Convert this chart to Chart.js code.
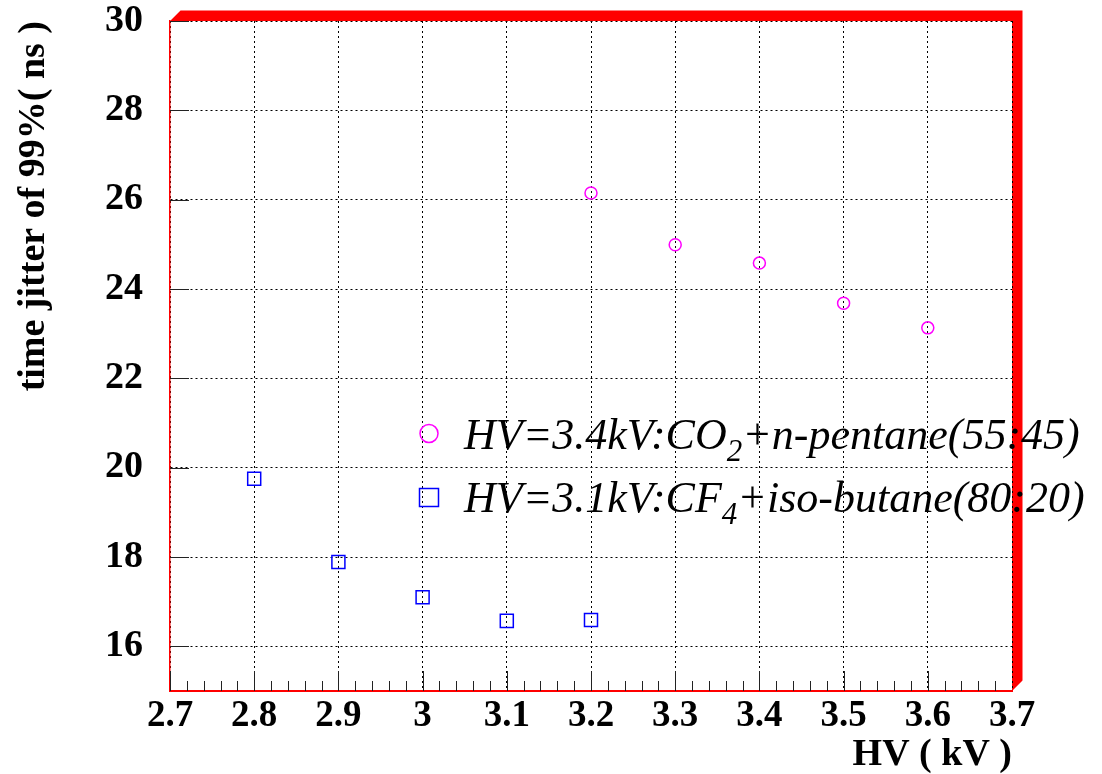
<!DOCTYPE html>
<html>
<head>
<meta charset="utf-8">
<script src="https://cdn.jsdelivr.net/npm/chart.js@4.4.0/dist/chart.umd.min.js"></script>
<style>
    html, body { margin: 0; padding: 0; background: #fff; }
    #contenedor { width: 1102px; height: 774px; }
</style>
</head>
<body>
<div id="contenedor"><canvas id="grafico" width="1102" height="774"></canvas></div>
<script>
// Datos
const hvCO2 = [3.2, 3.3, 3.4, 3.5, 3.6];
const jitterCO2 = [26.15, 24.99, 24.58, 23.68, 23.13];
const hvCF4 = [2.8, 2.9, 3.0, 3.1, 3.2];
const jitterCF4 = [19.75, 17.89, 17.10, 16.57, 16.59];

const xTicks = [2.7, 2.8, 2.9, 3.0, 3.1, 3.2, 3.3, 3.4, 3.5, 3.6, 3.7];
const yTicks = [16, 18, 20, 22, 24, 26, 28, 30];

const leyendaTextos = [
    ['HV=3.4kV:CO', '2', '+n-pentane(55:45)'],
    ['HV=3.1kV:CF', '4', '+iso-butane(80:20)']
];

const serif = '"Liberation Serif", "Times New Roman", serif';

// 1. Sombra roja del marco (arriba y derecha)
const sombraMarco = {
    id: 'sombraMarco',
    beforeDraw(chart) {
        const { ctx, chartArea: a } = chart;
        const d = 10.5;
        ctx.save();
        ctx.fillStyle = '#ff0000';
        ctx.beginPath();
        ctx.moveTo(a.left, a.top);
        ctx.lineTo(a.left + d, a.top - d);
        ctx.lineTo(a.right + d, a.top - d);
        ctx.lineTo(a.right + d, a.bottom - d);
        ctx.lineTo(a.right, a.bottom);
        ctx.lineTo(a.right, a.top);
        ctx.closePath();
        ctx.fill();
        ctx.restore();
    }
};

// 2. Marcas de los ejes (mayores y menores)
const marcasEjes = {
    id: 'marcasEjes',
    afterDatasetsDraw(chart) {
        const { ctx, chartArea: a, scales: { x, y } } = chart;
        ctx.save();
        ctx.strokeStyle = '#222';
        ctx.lineWidth = 1;
        ctx.beginPath();
        for (let i = 0; i < xTicks.length - 1; i++) {
            for (let k = 0; k < 5; k++) {
                const v = xTicks[i] + (xTicks[i + 1] - xTicks[i]) * k / 5;
                const px = Math.round(x.getPixelForValue(v)) + 0.5;
                const largo = k === 0 ? 20 : 10;
                ctx.moveTo(px, a.bottom);
                ctx.lineTo(px, a.bottom - largo);
            }
        }
        yTicks.forEach(v => {
            const py = Math.round(y.getPixelForValue(v)) + 0.5;
            ctx.moveTo(a.left, py);
            ctx.lineTo(a.left + 19, py);
        });
        ctx.stroke();
        ctx.restore();
    }
};

// 3. Leyenda con subindices
const leyenda = {
    id: 'leyenda',
    afterDraw(chart) {
        const { ctx } = chart;
        const filas = [
            { base: 448.5, color: '#ff00ff', forma: 'circulo' },
            { base: 511.5, color: '#0000ff', forma: 'cuadro' }
        ];
        ctx.save();
        filas.forEach((f, i) => {
            const cy = f.base - (i === 0 ? 15 : 14);
            ctx.strokeStyle = f.color;
            ctx.lineWidth = 1.5;
            ctx.beginPath();
            if (f.forma === 'circulo') {
                ctx.arc(429, cy, 9, 0, Math.PI * 2);
            } else {
                ctx.rect(419.5, cy - 9, 19, 18);
            }
            ctx.stroke();

            const [t1, sub, t2] = leyendaTextos[i];
            let x = 464;
            ctx.fillStyle = '#000';
            ctx.textBaseline = 'alphabetic';
            ctx.textAlign = 'left';
            ctx.font = 'italic 44px ' + serif;
            ctx.fillText(t1, x, f.base);
            x += ctx.measureText(t1).width;
            ctx.font = 'italic 31px ' + serif;
            ctx.fillText(sub, x, f.base + 12);
            x += ctx.measureText(sub).width;
            ctx.font = 'italic 44px ' + serif;
            ctx.fillText(t2, x, f.base);
        });
        ctx.restore();
    }
};

const ctx = document.getElementById('grafico').getContext('2d');
new Chart(ctx, {
    type: 'scatter',
    data: {
        datasets: [
            {
                label: 'HV=3.4kV:CO2+n-pentane(55:45)',
                data: hvCO2.map((v, i) => ({ x: v, y: jitterCO2[i] })),
                pointStyle: 'circle',
                pointRadius: 6,
                pointBorderWidth: 1.5,
                borderColor: '#ff00ff',
                backgroundColor: 'rgba(0,0,0,0)'
            },
            {
                label: 'HV=3.1kV:CF4+iso-butane(80:20)',
                data: hvCF4.map((v, i) => ({ x: v, y: jitterCF4[i] })),
                pointStyle: 'rect',
                pointRadius: 9.2,
                pointBorderWidth: 1.5,
                borderColor: '#0000ff',
                backgroundColor: 'rgba(0,0,0,0)'
            }
        ]
    },
    options: {
        responsive: false,
        animation: false,
        devicePixelRatio: 1,
        layout: { padding: { top: 21, right: 90, left: 0, bottom: 0 } },
        plugins: {
            legend: { display: false },
            tooltip: { enabled: false }
        },
        scales: {
            x: {
                type: 'linear',
                min: 2.7,
                max: 3.7,
                afterBuildTicks: s => { s.ticks = xTicks.map(v => ({ value: v })); },
                afterFit: s => { s.height = 83; s.paddingLeft = 0; s.paddingRight = 0; },
                grid: { color: '#000', lineWidth: 1, drawTicks: false },
                border: { color: '#ff0000', width: 2, dash: [2, 3] },
                ticks: {
                    padding: 3,
                    color: '#000',
                    maxRotation: 0,
                    autoSkip: false,
                    font: { family: serif, weight: 'bold', size: 37 },
                    callback: v => String(+v.toFixed(1))
                },
                title: {
                    display: true,
                    text: 'HV ( kV )',
                    align: 'end',
                    color: '#000',
                    font: { family: serif, weight: 'bold', size: 38, lineHeight: 1 },
                    padding: { top: 0, bottom: 0 }
                }
            },
            y: {
                type: 'linear',
                min: 15,
                max: 30,
                afterBuildTicks: s => { s.ticks = yTicks.map(v => ({ value: v })); },
                afterFit: s => { s.width = 170; s.paddingTop = 0; s.paddingBottom = 0; },
                grid: { color: '#000', lineWidth: 1, drawTicks: false },
                border: { color: '#ff0000', width: 1.5, dash: [2, 3] },
                ticks: {
                    padding: 27,
                    color: '#000',
                    autoSkip: false,
                    font: { family: serif, weight: 'bold', size: 38 },
                    callback: v => String(v)
                },
                title: {
                    display: true,
                    text: 'time jitter of 99%( ns )',
                    align: 'end',
                    color: '#000',
                    font: { family: serif, weight: 'bold', size: 38, lineHeight: 1 },
                    padding: { top: 15, bottom: 0 }
                }
            }
        }
    },
    plugins: [sombraMarco, marcasEjes, leyenda]
});
</script>
</body>
</html>
